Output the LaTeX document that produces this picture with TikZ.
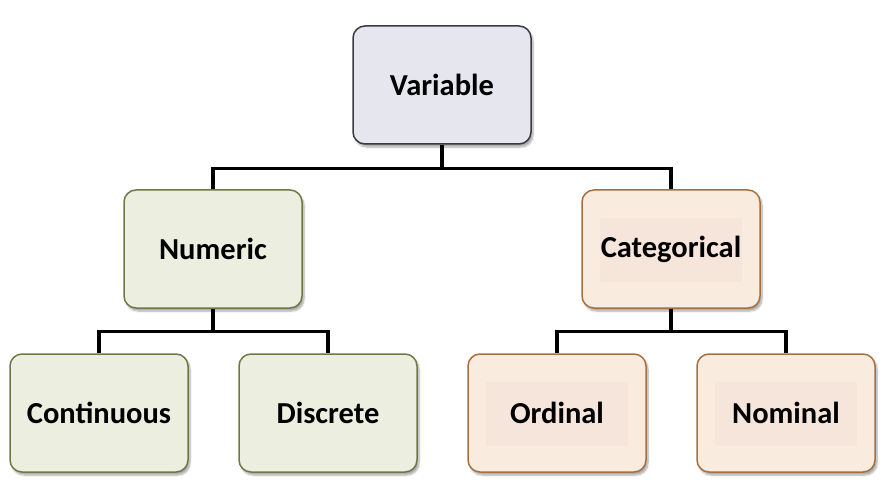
\documentclass[tikz,border=0pt]{standalone}
\usepackage{fontspec}
\setmainfont{Carlito}
\usetikzlibrary{shadows.blur}
\definecolor{lavfill}{HTML}{E6E6EF}
\definecolor{lavline}{HTML}{3A3A40}
\definecolor{grnfill}{HTML}{ECEEDF}
\definecolor{grnline}{HTML}{6E7A45}
\definecolor{pchfill}{HTML}{F9EBDD}
\definecolor{pchin}{HTML}{F5E5DB}
\definecolor{pchline}{HTML}{A8703F}
\tikzset{
  box/.style={draw, line width=1.5pt, rounded corners=12pt, minimum width=178pt,
    minimum height=118pt, inner sep=0pt, font=\fontsize{30.5}{34}\selectfont\bfseries,
    blur shadow={shadow xshift=2pt, shadow yshift=-3pt, shadow opacity=35, shadow blur steps=6}},
  topbox/.style={box, fill=lavfill, draw=lavline},
  numbox/.style={box, fill=grnfill, draw=grnline},
  catbox/.style={box, fill=pchfill, draw=pchline,
    path picture={\fill[pchin, sharp corners] ([shift={(18pt,-28pt)}]path picture bounding box.north west)
      rectangle ([shift={(-18pt,26pt)}]path picture bounding box.south east);}},
  link/.style={line width=3.2pt}
}
\begin{document}
\begin{tikzpicture}[x=1pt,y=-1pt]
% 884 x 492, boxes 178 x 118
\useasboundingbox (0,0) rectangle (884,492);
\node[topbox] (var) at (442,85) {Variable};
\node[numbox] (num) at (213,249) {Numeric};
\node[catbox] (cat) at (671,249) {Categorical};
\node[numbox] (cont) at (99,413) {Continuous};
\node[numbox] (disc) at (328,413) {Discrete};
\node[catbox] (ord) at (557,413) {Ordinal};
\node[catbox] (nom) at (786,413) {Nominal};
\draw[link] (var.south) -- ++(0,24) -| (num.north);
\draw[link] (var.south) -- ++(0,24) -| (cat.north);
\draw[link] (num.south) -- ++(0,23) -| (cont.north);
\draw[link] (num.south) -- ++(0,23) -| (disc.north);
\draw[link] (cat.south) -- ++(0,23) -| (ord.north);
\draw[link] (cat.south) -- ++(0,23) -| (nom.north);
\end{tikzpicture}
\end{document}
